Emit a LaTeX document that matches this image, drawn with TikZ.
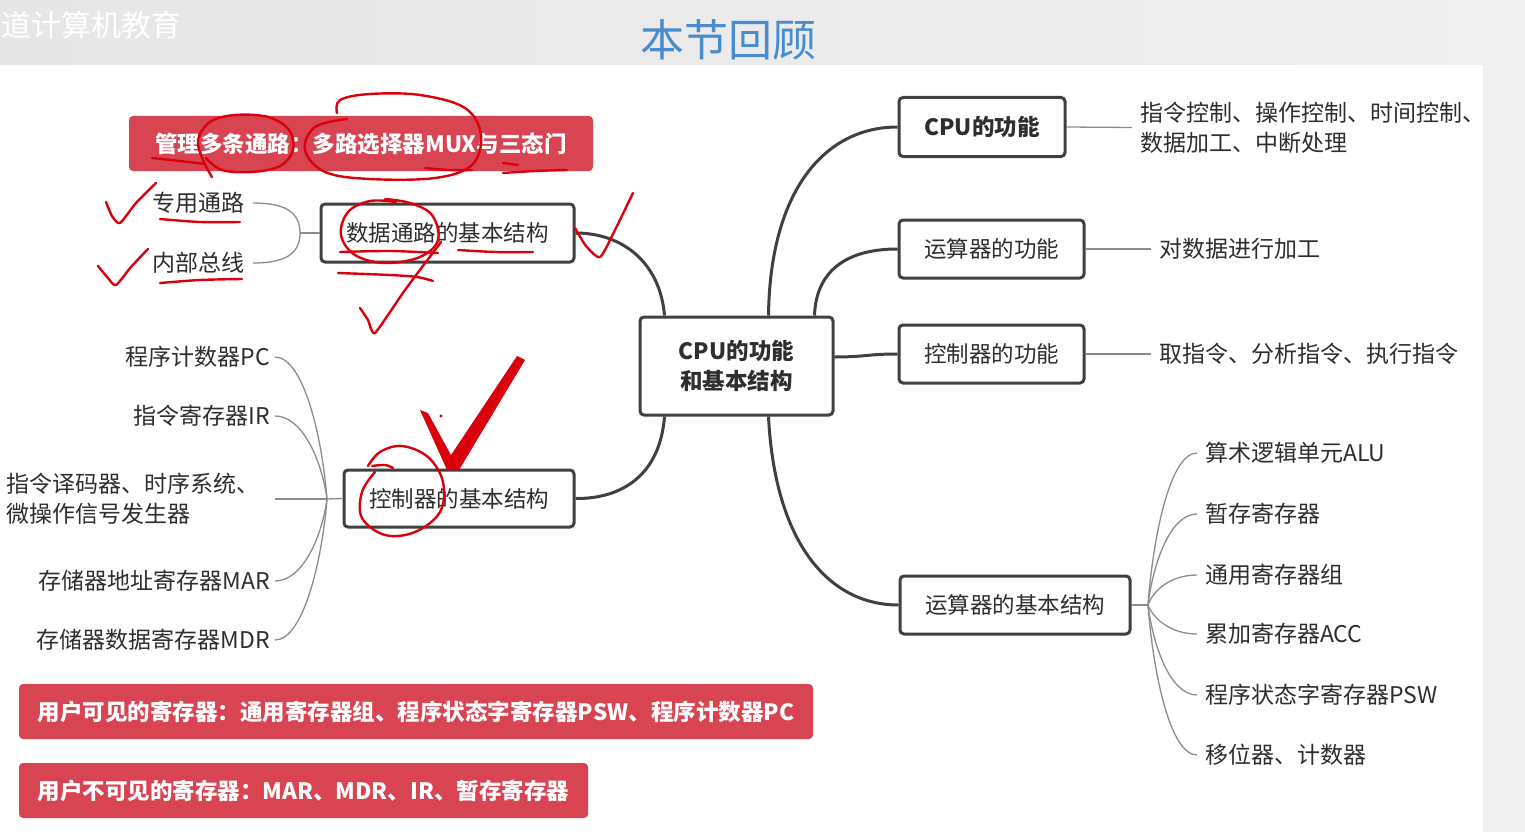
\documentclass[tikz,border=0pt]{standalone}
\usepackage{fontspec}
\setmainfont{Noto Sans CJK SC}
\usetikzlibrary{calc}
\definecolor{bandgray}{HTML}{E6E6E6}
\definecolor{bandlight}{HTML}{F0F0F0}
\definecolor{stripgray}{HTML}{F0F0F0}
\definecolor{redfill}{RGB}{216,68,82}
\definecolor{linedark}{HTML}{404040}
\definecolor{leafgray}{HTML}{8C8C8C}
\definecolor{txt}{HTML}{2E2E2E}
\definecolor{titleblue}{RGB}{72,140,205}
\definecolor{inkred}{RGB}{218,0,12}
\begin{document}
\begin{tikzpicture}[x=1pt,y=-1pt,
  txtfont/.style={font=\fontsize{22.5}{30}\selectfont},
  leaffont/.style={font=\fontsize{23}{30}\selectfont},
  boldfont/.style={font=\fontsize{22.5}{30}\selectfont\bfseries},
  box/.style={draw=linedark, line width=3pt, rounded corners=4pt, fill=white, text=txt, inner sep=0pt, align=center, txtfont},
  redbox/.style={fill=redfill, rounded corners=4pt, text=white, inner sep=0pt, boldfont},
  leafL/.style={anchor=east, inner xsep=5pt, inner ysep=0pt, text=txt, leaffont},
  leafR/.style={anchor=west, inner xsep=8pt, inner ysep=0pt, text=txt, leaffont},
  mainline/.style={draw=linedark, line width=3pt},
  leafline/.style={draw=leafgray, line width=1.3pt},
  ink/.style={draw=inkred, line width=2.4pt, line cap=round, line join=round}]
\useasboundingbox (0,0) rectangle (1525,832);
\fill[white] (0,0) rectangle (1525,832);
% header band and right strip
\shade[left color=bandgray, right color=bandlight] (0,0) rectangle (1525,65);
\fill[stripgray] (1483,65) rectangle (1525,832);
\node[anchor=west, inner sep=0pt, text=white, font=\fontsize{30}{32}\selectfont] (wm) at (1,25) {道计算机教育};
\node[inner sep=0pt, text=titleblue, font=\fontsize{44}{50}\selectfont] (title) at (728,40) {本节回顾};

% red info boxes
\node[redbox, minimum width=464pt, minimum height=55pt] (rb1) at (361,143.5) {管理多条通路：多路选择器MUX与三态门};
\node[redbox, minimum width=794pt, minimum height=55pt] (rb2) at (416,711.5) {用户可见的寄存器：通用寄存器组、程序状态字寄存器PSW、程序计数器PC};
\node[redbox, minimum width=569pt, minimum height=55pt] (rb3) at (303.5,790.5) {用户不可见的寄存器：MAR、MDR、IR、暂存寄存器};

% main nodes
\node[box, minimum width=193pt, minimum height=98pt, boldfont] (center) at (736.5,366) {CPU的功能\\和基本结构};
\node[box, minimum width=253pt, minimum height=58pt] (data) at (447.5,233) {数据通路的基本结构};
\node[box, minimum width=230pt, minimum height=57pt] (ctrl) at (459,498.5) {控制器的基本结构};
\node[box, minimum width=166pt, minimum height=59pt, boldfont] (cpuf) at (982,127) {CPU的功能};
\node[box, minimum width=185pt, minimum height=58pt] (aluf) at (991.5,249) {运算器的功能};
\node[box, minimum width=185pt, minimum height=58pt] (ctrlf) at (991.5,354) {控制器的功能};
\node[box, minimum width=230pt, minimum height=58pt] (alus) at (1015,605) {运算器的基本结构};

% main connectors
\draw[mainline] ($(center.north west)+(26,0)$) .. controls (660,262) and (622,233) .. (data.east);
\draw[mainline] ($(center.north west)+(130,0)$) .. controls (770,190) and (825,127) .. (cpuf.west);
\draw[mainline] ($(center.north west)+(176,0)$) .. controls (816,272) and (845,249) .. (aluf.west);
\draw[mainline] ($(center.east)+(0,-9)$) .. controls (865,357) and (868,354) .. (ctrlf.west);
\draw[mainline] ($(center.south west)+(26,0)$) .. controls (660,475) and (622,499) .. (ctrl.east);
\draw[mainline] ($(center.south west)+(130,0)$) .. controls (775,545) and (830,605) .. (alus.west);

% right function leaves
\node[leafR, align=left] (f1) at (1132,127.5) {指令控制、操作控制、时间控制、\\数据加工、中断处理};
\node[leafR] (f2) at (1151,249) {对数据进行加工};
\node[leafR] (f3) at (1151,354) {取指令、分析指令、执行指令};
\draw[leafline] (cpuf.east) -- (f1.west);
\draw[leafline] (aluf.east) -- (f2.west);
\draw[leafline] (ctrlf.east) -- (f3.west);

% data path leaves
\node[leafL, inner xsep=8pt] (zy) at (253,203) {专用通路};
\node[leafL, inner xsep=8pt] (nb) at (253,263) {内部总线};
\coordinate (dhub) at (300,233);
\draw[leafline] (data.west) -- (dhub);
\draw[leafline] (dhub) .. controls (300,212) and (285,203) .. (zy.east);
\draw[leafline] (dhub) .. controls (300,254) and (285,263) .. (nb.east);

% controller leaves
\node[leafL] (pc) at (275,357) {程序计数器PC};
\node[leafL] (ir) at (275,416) {指令寄存器IR};
\node[anchor=west, inner sep=0pt, text width=269pt, align=left, text=txt, leaffont] (dec) at (6,499) {指令译码器、时序系统、\\微操作信号发生器};
\node[leafL] (mar) at (275,581) {存储器地址寄存器MAR};
\node[leafL] (mdr) at (275,640) {存储器数据寄存器MDR};
\coordinate (chub) at (327,499);
\draw[leafline] (ctrl.west) -- (chub);
\draw[leafline] (chub) .. controls (322,435) and (303,357) .. (pc.east);
\draw[leafline] (chub) .. controls (322,462) and (303,416) .. (ir.east);
\draw[leafline] (chub) -- (dec.east);
\draw[leafline] (chub) .. controls (322,536) and (303,581) .. (mar.east);
\draw[leafline] (chub) .. controls (322,562) and (303,640) .. (mdr.east);

% ALU structure leaves
\node[leafR] (a1) at (1197,453) {算术逻辑单元ALU};
\node[leafR] (a2) at (1197,514) {暂存寄存器};
\node[leafR] (a3) at (1197,575) {通用寄存器组};
\node[leafR] (a4) at (1197,634) {累加寄存器ACC};
\node[leafR] (a5) at (1197,695) {程序状态字寄存器PSW};
\node[leafR] (a6) at (1197,755) {移位器、计数器};
\coordinate (ahub) at (1148,605);
\draw[leafline] (alus.east) -- (ahub);
\draw[leafline] (ahub) .. controls (1153,537) and (1170,453) .. (a1.west);
\draw[leafline] (ahub) .. controls (1153,564) and (1170,514) .. (a2.west);
\draw[leafline] (ahub) .. controls (1153,591) and (1170,575) .. (a3.west);
\draw[leafline] (ahub) .. controls (1153,618) and (1170,634) .. (a4.west);
\draw[leafline] (ahub) .. controls (1153,645) and (1170,695) .. (a5.west);
\draw[leafline] (ahub) .. controls (1153,672) and (1170,755) .. (a6.west);

% ---- red handwritten annotations ----
\draw[ink] plot[smooth, tension=0.6] coordinates {(212,177) (203,160) (198,140) (210,122) (235,115) (268,117) (289,130) (293,150) (280,166) (252,172) (222,170) (206,158)};
\draw[ink] plot[smooth, tension=0.6] coordinates {(337,113) (340,100) (370,94) (420,95) (465,108) (481,135) (472,165) (435,178) (370,179) (325,172) (305,150) (315,127) (347,119)};
\draw[ink] plot[smooth] coordinates {(152,158) (180,161) (205,164)};
\draw[ink] plot[smooth] coordinates {(425,168) (448,170) (472,170)};
\draw[ink] plot[smooth] coordinates {(503,173) (535,171) (567,170)};
\draw[ink] plot[smooth] coordinates {(503,163) (518,165)};
% checks at left leaves
\draw[ink] plot[smooth, tension=0.4] coordinates {(106,202) (112,216) (120,223) (136,203) (156,183)};
\draw[ink] plot[smooth] coordinates {(160,219) (200,222) (240,222)};
\draw[ink] plot[smooth, tension=0.4] coordinates {(98,266) (108,278) (116,285) (131,267) (148,249)};
\draw[ink] plot[smooth] coordinates {(160,283) (200,280) (242,279)};
% data node marks
\draw[ink] plot[smooth, tension=0.6] coordinates {(396,202) (370,201) (348,212) (341,235) (355,255) (385,263) (420,257) (438,240) (432,215) (410,203) (385,199)};
\draw[ink] plot[smooth] coordinates {(340,252) (390,251) (438,253)};
\draw[ink] plot[smooth] coordinates {(458,250) (495,252) (533,252)};
\draw[ink] plot[smooth] coordinates {(338,273) (390,275) (417,277) (433,281)};
\draw[ink] plot[smooth, tension=0.3] coordinates {(360,308) (368,320) (375,333) (405,290) (441,242)};
\draw[ink] plot[smooth, tension=0.4] coordinates {(575,228) (586,246) (600,257) (614,232) (633,193)};
% big check
\fill[inkred] (420,410) -- (428,413) -- (451,455) -- (517,356) -- (525,360) -- (459,470) -- (447,470) -- cycle;
\fill[inkred] (441,416) circle (1.6);
% controller circle
\draw[ink] plot[smooth, tension=0.6] coordinates {(372,466) (385,465) (393,468)};
\draw[ink] plot[smooth, tension=0.6] coordinates {(375,472) (362,492) (362,518) (385,535) (415,532) (440,512) (443,482) (428,457) (402,446) (380,452) (368,466)};
\end{tikzpicture}
\end{document}
